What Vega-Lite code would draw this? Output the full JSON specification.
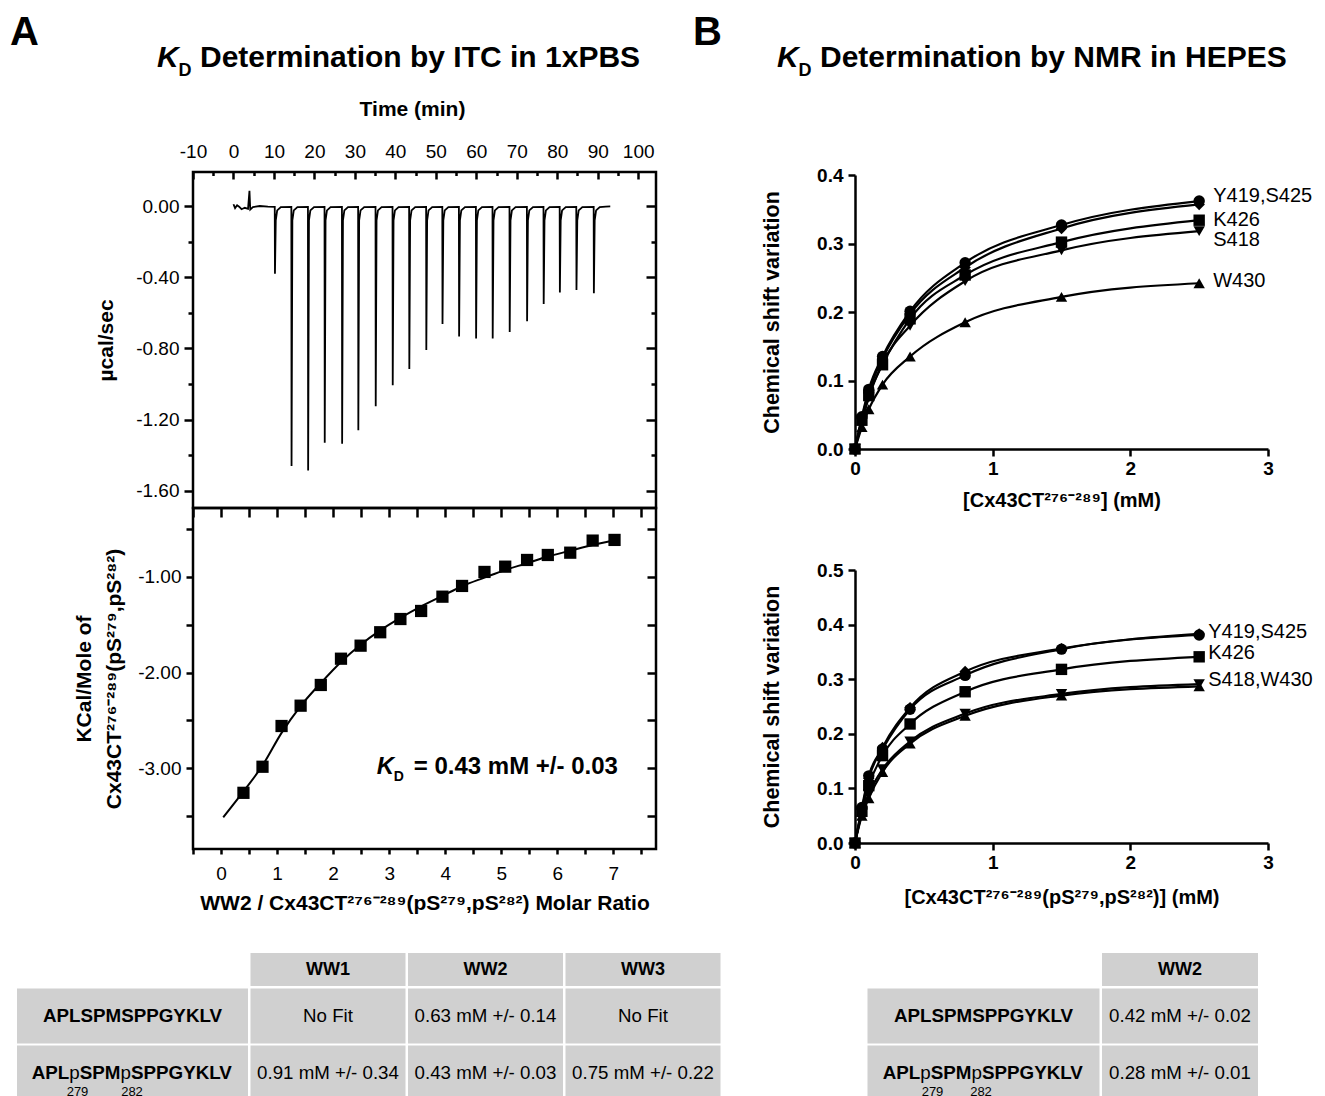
{
"$schema": "https://vega.github.io/schema/vega-lite/v6.json",
"padding": {"left": 8, "top": 11, "right": 5, "bottom": 5},
"autosize": {"type": "pad"},
"background": "white",
"config": {
  "font": "Liberation Sans",
  "view": {"stroke": null},
  "axis": {"grid": false, "domainColor": "black", "tickColor": "black", "labelColor": "black", "titleColor": "black", "labelFont": "Liberation Sans", "titleFont": "Liberation Sans", "labelFlush": false, "labelOverlap": false},
  "text": {"font": "Liberation Sans", "color": "black"},
  "locale": {"number": {"decimal": ".", "thousands": ",", "grouping": [3], "currency": ["$", ""], "minus": "-"}}
},
"datasets": {
  "itcraw": [{"t":0,"p":0.01},{"t":0.4,"p":-0.012},{"t":0.9,"p":0.004},{"t":1.4,"p":-0.004},{"t":2,"p":-0.018},{"t":2.8,"p":-0.01},{"t":3.6,"p":-0.016},{"t":3.95,"p":0.085},{"t":4.15,"p":-0.02},{"t":4.8,"p":-0.006},{"t":6.5,"p":0},{"t":8.5,"p":-0.004},
{"t":10.2,"p":-0.005},{"t":10.25,"p":-0.38},{"t":10.45,"p":-0.08},{"t":10.8,"p":-0.025},{"t":11.7,"p":-0.006},
{"t":14.3,"p":-0.005},{"t":14.35,"p":-1.46},{"t":14.55,"p":-0.08},{"t":14.9,"p":-0.025},{"t":15.8,"p":-0.006},
{"t":18.4,"p":-0.005},{"t":18.45,"p":-1.485},{"t":18.65,"p":-0.08},{"t":19,"p":-0.025},{"t":19.9,"p":-0.006},
{"t":22.5,"p":-0.005},{"t":22.55,"p":-1.33},{"t":22.75,"p":-0.08},{"t":23.1,"p":-0.025},{"t":24,"p":-0.006},
{"t":26.8,"p":-0.005},{"t":26.85,"p":-1.335},{"t":27.05,"p":-0.08},{"t":27.4,"p":-0.025},{"t":28.3,"p":-0.006},
{"t":30.8,"p":-0.005},{"t":30.85,"p":-1.26},{"t":31.05,"p":-0.08},{"t":31.4,"p":-0.025},{"t":32.3,"p":-0.006},
{"t":35.1,"p":-0.005},{"t":35.15,"p":-1.125},{"t":35.35,"p":-0.08},{"t":35.7,"p":-0.025},{"t":36.6,"p":-0.006},
{"t":39.3,"p":-0.005},{"t":39.35,"p":-1.006},{"t":39.55,"p":-0.08},{"t":39.9,"p":-0.025},{"t":40.8,"p":-0.006},
{"t":43.4,"p":-0.005},{"t":43.45,"p":-0.916},{"t":43.65,"p":-0.08},{"t":44,"p":-0.025},{"t":44.9,"p":-0.006},
{"t":47.6,"p":-0.005},{"t":47.65,"p":-0.808},{"t":47.85,"p":-0.08},{"t":48.2,"p":-0.025},{"t":49.1,"p":-0.006},
{"t":51.6,"p":-0.005},{"t":51.65,"p":-0.662},{"t":51.85,"p":-0.08},{"t":52.2,"p":-0.025},{"t":53.1,"p":-0.006},
{"t":55.7,"p":-0.005},{"t":55.75,"p":-0.733},{"t":55.95,"p":-0.08},{"t":56.3,"p":-0.025},{"t":57.2,"p":-0.006},
{"t":59.9,"p":-0.005},{"t":59.95,"p":-0.744},{"t":60.15,"p":-0.08},{"t":60.5,"p":-0.025},{"t":61.4,"p":-0.006},
{"t":64,"p":-0.005},{"t":64.05,"p":-0.744},{"t":64.25,"p":-0.08},{"t":64.6,"p":-0.025},{"t":65.5,"p":-0.006},
{"t":68.2,"p":-0.005},{"t":68.25,"p":-0.707},{"t":68.45,"p":-0.08},{"t":68.8,"p":-0.025},{"t":69.7,"p":-0.006},
{"t":72.5,"p":-0.005},{"t":72.55,"p":-0.647},{"t":72.75,"p":-0.08},{"t":73.1,"p":-0.025},{"t":74,"p":-0.006},
{"t":76.6,"p":-0.005},{"t":76.65,"p":-0.55},{"t":76.85,"p":-0.08},{"t":77.2,"p":-0.025},{"t":78.1,"p":-0.006},
{"t":80.6,"p":-0.005},{"t":80.65,"p":-0.486},{"t":80.85,"p":-0.08},{"t":81.2,"p":-0.025},{"t":82.1,"p":-0.006},
{"t":84.7,"p":-0.005},{"t":84.75,"p":-0.471},{"t":84.95,"p":-0.08},{"t":85.3,"p":-0.025},{"t":86.2,"p":-0.006},
{"t":89,"p":-0.005},{"t":89.05,"p":-0.49},{"t":89.25,"p":-0.08},{"t":89.6,"p":-0.025},{"t":90.5,"p":-0.006},
{"t":92,"p":-0.003},{"t":93.1,"p":-0.002}],
  "itcpts": [{"r":0.4,"h":-3.255},{"r":0.74,"h":-2.983},{"r":1.08,"h":-2.558},{"r":1.42,"h":-2.346},{"r":1.78,"h":-2.13},{"r":2.14,"h":-1.856},{"r":2.49,"h":-1.72},{"r":2.84,"h":-1.58},{"r":3.2,"h":-1.442},{"r":3.57,"h":-1.358},{"r":3.95,"h":-1.209},{"r":4.3,"h":-1.097},{"r":4.7,"h":-0.951},{"r":5.07,"h":-0.896},{"r":5.46,"h":-0.826},{"r":5.83,"h":-0.774},{"r":6.23,"h":-0.75},{"r":6.63,"h":-0.624},{"r":7.02,"h":-0.617}],
  "itcfit": [{"r":0.04,"h":-3.51},{"r":0.4,"h":-3.24},{"r":0.74,"h":-2.97},{"r":1.08,"h":-2.63},{"r":1.42,"h":-2.35},{"r":1.78,"h":-2.11},{"r":2.14,"h":-1.89},{"r":2.49,"h":-1.71},{"r":2.84,"h":-1.56},{"r":3.2,"h":-1.43},{"r":3.57,"h":-1.31},{"r":3.95,"h":-1.2},{"r":4.3,"h":-1.1},{"r":4.7,"h":-1.01},{"r":5.07,"h":-0.93},{"r":5.46,"h":-0.86},{"r":5.83,"h":-0.79},{"r":6.23,"h":-0.73},{"r":6.63,"h":-0.67},{"r":7.02,"h":-0.62}],
  "nmr1": [
{"s":"Y419","c":0,"v":0},{"s":"Y419","c":0.05,"v":0.047},{"s":"Y419","c":0.1,"v":0.087},{"s":"Y419","c":0.2,"v":0.135},{"s":"Y419","c":0.4,"v":0.201},{"s":"Y419","c":0.8,"v":0.272},{"s":"Y419","c":1.5,"v":0.327},{"s":"Y419","c":2.5,"v":0.362},
{"s":"S425","c":0,"v":0},{"s":"S425","c":0.05,"v":0.045},{"s":"S425","c":0.1,"v":0.083},{"s":"S425","c":0.2,"v":0.132},{"s":"S425","c":0.4,"v":0.197},{"s":"S425","c":0.8,"v":0.265},{"s":"S425","c":1.5,"v":0.322},{"s":"S425","c":2.5,"v":0.357},
{"s":"K426","c":0,"v":0},{"s":"K426","c":0.05,"v":0.042},{"s":"K426","c":0.1,"v":0.078},{"s":"K426","c":0.2,"v":0.123},{"s":"K426","c":0.4,"v":0.19},{"s":"K426","c":0.8,"v":0.254},{"s":"K426","c":1.5,"v":0.302},{"s":"K426","c":2.5,"v":0.334},
{"s":"S418","c":0,"v":0},{"s":"S418","c":0.05,"v":0.04},{"s":"S418","c":0.1,"v":0.075},{"s":"S418","c":0.2,"v":0.125},{"s":"S418","c":0.4,"v":0.18},{"s":"S418","c":0.8,"v":0.245},{"s":"S418","c":1.5,"v":0.29},{"s":"S418","c":2.5,"v":0.318},
{"s":"W430","c":0,"v":0},{"s":"W430","c":0.05,"v":0.032},{"s":"W430","c":0.1,"v":0.058},{"s":"W430","c":0.2,"v":0.094},{"s":"W430","c":0.4,"v":0.135},{"s":"W430","c":0.8,"v":0.185},{"s":"W430","c":1.5,"v":0.222},{"s":"W430","c":2.5,"v":0.242}],
  "nmr2": [
{"s":"Y419","c":0,"v":0},{"s":"Y419","c":0.05,"v":0.065},{"s":"Y419","c":0.1,"v":0.123},{"s":"Y419","c":0.2,"v":0.172},{"s":"Y419","c":0.4,"v":0.245},{"s":"Y419","c":0.8,"v":0.307},{"s":"Y419","c":1.5,"v":0.355},{"s":"Y419","c":2.5,"v":0.381},
{"s":"S425","c":0,"v":0},{"s":"S425","c":0.05,"v":0.062},{"s":"S425","c":0.1,"v":0.118},{"s":"S425","c":0.2,"v":0.175},{"s":"S425","c":0.4,"v":0.248},{"s":"S425","c":0.8,"v":0.314},{"s":"S425","c":1.5,"v":0.356},{"s":"S425","c":2.5,"v":0.383},
{"s":"K426","c":0,"v":0},{"s":"K426","c":0.05,"v":0.058},{"s":"K426","c":0.1,"v":0.105},{"s":"K426","c":0.2,"v":0.16},{"s":"K426","c":0.4,"v":0.218},{"s":"K426","c":0.8,"v":0.277},{"s":"K426","c":1.5,"v":0.318},{"s":"K426","c":2.5,"v":0.341},
{"s":"S418","c":0,"v":0},{"s":"S418","c":0.05,"v":0.055},{"s":"S418","c":0.1,"v":0.09},{"s":"S418","c":0.2,"v":0.135},{"s":"S418","c":0.4,"v":0.186},{"s":"S418","c":0.8,"v":0.237},{"s":"S418","c":1.5,"v":0.273},{"s":"S418","c":2.5,"v":0.291},
{"s":"W430","c":0,"v":0},{"s":"W430","c":0.05,"v":0.05},{"s":"W430","c":0.1,"v":0.082},{"s":"W430","c":0.2,"v":0.13},{"s":"W430","c":0.4,"v":0.182},{"s":"W430","c":0.8,"v":0.233},{"s":"W430","c":1.5,"v":0.27},{"s":"W430","c":2.5,"v":0.287}],
  "peps": [{"row":"r1","pep":"APLSPMSPPGYKLV"},{"row":"r2","pep":"APLpSPMpSPPGYKLV"}]
},
"vconcat": [
 {"hconcat": [
   {"width": 1, "height": 1, "data": {"values": [{}]}, "mark": {"type": "text", "text": ""}, "encoding": {}},
   {"hconcat": [
     {"vconcat": [
       {"width": 463, "height": 336,
        "view": {"stroke": "black", "strokeWidth": 2.5},
        "data": {"name": "itcraw"},
        "resolve": {"axis": {"x": "independent", "y": "independent"}},
        "layer": [
          {"mark": {"type": "line", "color": "black", "strokeWidth": 1.8},
           "encoding": {
             "x": {"field": "t", "type": "quantitative", "scale": {"domain": [-10, 104.4], "nice": false, "zero": false},
                   "axis": {"orient": "top", "values": [-10,0,10,20,30,40,50,60,70,80,90,100], "format": "d", "domain": false, "tickSize": -7, "tickWidth": 2.5, "labelPadding": 18, "labelFontSize": 19, "title": "Time (min)", "titleFontSize": 21, "titleFontWeight": "bold", "titleX": 219, "titleY": -57, "titleAlign": "center", "titleBaseline": "alphabetic", "titleAngle": 0}},
             "y": {"field": "p", "type": "quantitative", "scale": {"domain": [-1.696, 0.191], "nice": false, "zero": false},
                   "axis": {"orient": "left", "values": [0,-0.4,-0.8,-1.2,-1.6], "format": ".2f", "domain": false, "tickSize": 9, "tickWidth": 2.5, "labelPadding": 5, "labelFontSize": 19, "title": "µcal/sec", "titleFontSize": 21, "titleFontWeight": "bold", "titlePadding": 19}}
           }},
          {"mark": {"type": "line", "opacity": 0},
           "encoding": {
             "x": {"field": "t", "type": "quantitative", "axis": {"orient": "top", "values": [-5,5,15,25,35,45,55,65,75,85,95], "domain": false, "tickSize": -3.5, "tickWidth": 2.5, "labels": false, "title": null}},
             "y": {"field": "p", "type": "quantitative", "axis": {"orient": "left", "values": [-0.2,-0.6,-1.0,-1.4], "domain": false, "tickSize": 5, "tickWidth": 2.5, "labels": false, "title": null}}
           }},
          {"mark": {"type": "line", "opacity": 0},
           "encoding": {
             "x": {"field": "t", "type": "quantitative", "axis": null},
             "y": {"field": "p", "type": "quantitative", "axis": {"orient": "right", "values": [0,-0.4,-0.8,-1.2,-1.6], "domain": false, "tickSize": -10, "tickWidth": 2.5, "labels": false, "title": null}}
           }},
          {"mark": {"type": "line", "opacity": 0},
           "encoding": {
             "x": {"field": "t", "type": "quantitative", "axis": null},
             "y": {"field": "p", "type": "quantitative", "axis": {"orient": "right", "values": [-0.2,-0.6,-1.0,-1.4], "domain": false, "tickSize": -5, "tickWidth": 2.5, "labels": false, "title": null}}
           }},
          {"data": {"values": [{}]},
           "mark": {"type": "text", "text": "A", "fontSize": 40, "fontWeight": "bold", "align": "left", "baseline": "alphabetic"},
           "encoding": {"x": {"datum": -55.22, "type": "quantitative", "axis": null}, "y": {"datum": 0.904, "type": "quantitative", "axis": null}}},
          {"data": {"values": [{}]},
           "mark": {"type": "text", "text": "K", "fontSize": 30, "fontWeight": "bold", "fontStyle": "italic", "align": "left", "baseline": "alphabetic"},
           "encoding": {"x": {"datum": -18.9, "type": "quantitative", "axis": null}, "y": {"datum": 0.7807, "type": "quantitative", "axis": null}}},
          {"data": {"values": [{}]},
           "mark": {"type": "text", "text": "D", "fontSize": 18, "fontWeight": "bold", "align": "left", "baseline": "alphabetic", "dx": 21.5, "dy": 9},
           "encoding": {"x": {"datum": -18.9, "type": "quantitative", "axis": null}, "y": {"datum": 0.7807, "type": "quantitative", "axis": null}}},
          {"data": {"values": [{}]},
           "mark": {"type": "text", "text": "Determination by ITC in 1xPBS", "fontSize": 30, "fontWeight": "bold", "align": "left", "baseline": "alphabetic", "dx": 43},
           "encoding": {"x": {"datum": -18.9, "type": "quantitative", "axis": null}, "y": {"datum": 0.7807, "type": "quantitative", "axis": null}}}
        ]},
       {"width": 463, "height": 341,
        "view": {"stroke": "black", "strokeWidth": 2.5},
        "resolve": {"axis": {"x": "independent", "y": "independent"}},
        "layer": [
          {"data": {"name": "itcfit"},
           "mark": {"type": "line", "color": "black", "strokeWidth": 2, "interpolate": "monotone"},
           "encoding": {
             "x": {"field": "r", "type": "quantitative", "axis": null},
             "y": {"field": "h", "type": "quantitative", "axis": null}
           }},
          {"data": {"name": "itcpts"},
           "mark": {"type": "point", "shape": "square", "filled": true, "size": 150, "color": "black", "opacity": 1},
           "encoding": {
             "x": {"field": "r", "type": "quantitative", "scale": {"domain": [-0.5, 7.76], "nice": false, "zero": false},
                   "axis": {"orient": "bottom", "values": [-0.5,0,0.5,1,1.5,2,2.5,3,3.5,4,4.5,5,5.5,6,6.5,7,7.5], "labelExpr": "datum.value % 1 == 0 ? '' + datum.value : ''", "domain": false, "tickSize": 5, "tickWidth": 2.5, "labelPadding": 10, "labelFontSize": 19, "title": "WW2 / Cx43CT²⁷⁶⁻²⁸⁹(pS²⁷⁹,pS²⁸²) Molar Ratio", "titleFontSize": 21, "titleFontWeight": "bold", "titlePadding": 9}},
             "y": {"field": "h", "type": "quantitative", "scale": {"domain": [-3.841, -0.284], "nice": false, "zero": false},
                   "axis": {"orient": "left", "values": [-0.5,-1,-1.5,-2,-2.5,-3,-3.5], "format": ".2f", "labelExpr": "datum.value % 1 == 0 ? datum.label : ''", "domain": false, "tickSize": 7, "tickWidth": 2.5, "labelPadding": 5, "labelFontSize": 19, "title": ["KCal/Mole of", "Cx43CT²⁷⁶⁻²⁸⁹(pS²⁷⁹,pS²⁸²)"], "titleFontSize": 21, "titleFontWeight": "bold", "titlePadding": 13, "titleLineHeight": 30}}
           }},
          {"data": {"name": "itcpts"},
           "mark": {"type": "point", "opacity": 0},
           "encoding": {
             "x": {"field": "r", "type": "quantitative", "axis": {"orient": "top", "values": [-0.5,0,0.5,1,1.5,2,2.5,3,3.5,4,4.5,5,5.5,6,6.5,7,7.5], "domain": false, "tickSize": -9, "tickWidth": 2.5, "labels": false, "title": null}},
             "y": {"field": "h", "type": "quantitative", "axis": {"orient": "right", "values": [-0.5,-1,-1.5,-2,-2.5,-3,-3.5], "domain": false, "tickSize": -9, "tickWidth": 2.5, "labels": false, "title": null}}
           }},
          {"data": {"values": [{}]},
           "mark": {"type": "text", "text": "K", "fontSize": 24, "fontWeight": "bold", "fontStyle": "italic", "align": "left", "baseline": "alphabetic"},
           "encoding": {"x": {"datum": 2.778, "type": "quantitative", "axis": null}, "y": {"datum": -3.058, "type": "quantitative", "axis": null}}},
          {"data": {"values": [{}]},
           "mark": {"type": "text", "text": "D", "fontSize": 14, "fontWeight": "bold", "align": "left", "baseline": "alphabetic", "dx": 17, "dy": 7},
           "encoding": {"x": {"datum": 2.778, "type": "quantitative", "axis": null}, "y": {"datum": -3.058, "type": "quantitative", "axis": null}}},
          {"data": {"values": [{}]},
           "mark": {"type": "text", "text": "= 0.43 mM +/- 0.03", "fontSize": 24, "fontWeight": "bold", "align": "left", "baseline": "alphabetic", "dx": 37},
           "encoding": {"x": {"datum": 2.778, "type": "quantitative", "axis": null}, "y": {"datum": -3.058, "type": "quantitative", "axis": null}}}
        ]}
     ], "spacing": 0, "bounds": "flush"},
     {"vconcat": [
       {"width": 1, "height": 1, "data": {"values": [{}]}, "mark": {"type": "text", "text": ""}, "encoding": {}},
       {"vconcat": [
         {"width": 413, "height": 274,
          "resolve": {"axis": {"x": "independent", "y": "independent"}},
          "layer": [
            {"data": {"name": "nmr1"},
             "mark": {"type": "line", "color": "black", "strokeWidth": 2.2, "interpolate": "monotone"},
             "encoding": {
               "x": {"field": "c", "type": "quantitative", "scale": {"domain": [0, 3], "nice": false, "zero": false},
                     "axis": {"orient": "bottom", "values": [0,1,2,3], "format": "d", "tickSize": 7, "tickWidth": 2.5, "domainWidth": 2.5, "labelFontSize": 19, "labelFontWeight": "bold", "labelPadding": 3, "title": "[Cx43CT²⁷⁶⁻²⁸⁹] (mM)", "titleFontSize": 20, "titleFontWeight": "bold", "titlePadding": 12}},
               "y": {"field": "v", "type": "quantitative", "scale": {"domain": [0, 0.4], "nice": false, "zero": false},
                     "axis": {"orient": "left", "values": [0,0.1,0.2,0.3,0.4], "format": ".1f", "tickSize": 7, "tickWidth": 2.5, "domainWidth": 2.5, "labelFontSize": 19, "labelFontWeight": "bold", "labelPadding": 5, "title": "Chemical shift variation", "titleFontSize": 21.5, "titleFontWeight": "bold", "titlePadding": 33}},
               "detail": {"field": "s", "type": "nominal"}
             }},
            {"data": {"name": "nmr1"},
             "mark": {"type": "point", "filled": true, "size": 130, "color": "black", "opacity": 1},
             "encoding": {
               "x": {"field": "c", "type": "quantitative", "axis": null},
               "y": {"field": "v", "type": "quantitative", "axis": null},
               "shape": {"field": "s", "type": "nominal", "scale": {"domain": ["Y419","S425","K426","S418","W430"], "range": ["circle","diamond","square","triangle-down","triangle-up"]}, "legend": null}
             }},
            {"data": {"values": [{"lab":"Y419,S425","x":2.5,"y":0.369},{"lab":"K426","x":2.5,"y":0.335},{"lab":"S418","x":2.5,"y":0.305},{"lab":"W430","x":2.5,"y":0.245}]},
             "mark": {"type": "text", "align": "left", "baseline": "middle", "dx": 14, "fontSize": 20},
             "encoding": {"x": {"field": "x", "type": "quantitative", "axis": null}, "y": {"field": "y", "type": "quantitative", "axis": null}, "text": {"field": "lab"}}},
            {"data": {"values": [{}]},
             "mark": {"type": "text", "text": "B", "fontSize": 40, "fontWeight": "bold", "align": "left", "baseline": "alphabetic"},
             "encoding": {"x": {"datum": -1.1767, "type": "quantitative", "axis": null}, "y": {"datum": 0.5898, "type": "quantitative", "axis": null}}},
            {"data": {"values": [{}]},
             "mark": {"type": "text", "text": "K", "fontSize": 30, "fontWeight": "bold", "fontStyle": "italic", "align": "left", "baseline": "alphabetic"},
             "encoding": {"x": {"datum": -0.5666, "type": "quantitative", "axis": null}, "y": {"datum": 0.5577, "type": "quantitative", "axis": null}}},
            {"data": {"values": [{}]},
             "mark": {"type": "text", "text": "D", "fontSize": 18, "fontWeight": "bold", "align": "left", "baseline": "alphabetic", "dx": 21.5, "dy": 9},
             "encoding": {"x": {"datum": -0.5666, "type": "quantitative", "axis": null}, "y": {"datum": 0.5577, "type": "quantitative", "axis": null}}},
            {"data": {"values": [{}]},
             "mark": {"type": "text", "text": "Determination by NMR in HEPES", "fontSize": 30, "fontWeight": "bold", "align": "left", "baseline": "alphabetic", "dx": 43},
             "encoding": {"x": {"datum": -0.5666, "type": "quantitative", "axis": null}, "y": {"datum": 0.5577, "type": "quantitative", "axis": null}}}
          ]},
         {"width": 413, "height": 273,
          "resolve": {"axis": {"x": "independent", "y": "independent"}},
          "layer": [
            {"data": {"name": "nmr2"},
             "mark": {"type": "line", "color": "black", "strokeWidth": 2.2, "interpolate": "monotone"},
             "encoding": {
               "x": {"field": "c", "type": "quantitative", "scale": {"domain": [0, 3], "nice": false, "zero": false},
                     "axis": {"orient": "bottom", "values": [0,1,2,3], "format": "d", "tickSize": 7, "tickWidth": 2.5, "domainWidth": 2.5, "labelFontSize": 19, "labelFontWeight": "bold", "labelPadding": 3, "title": "[Cx43CT²⁷⁶⁻²⁸⁹(pS²⁷⁹,pS²⁸²)] (mM)", "titleFontSize": 20, "titleFontWeight": "bold", "titlePadding": 15}},
               "y": {"field": "v", "type": "quantitative", "scale": {"domain": [0, 0.5], "nice": false, "zero": false},
                     "axis": {"orient": "left", "values": [0,0.1,0.2,0.3,0.4,0.5], "format": ".1f", "tickSize": 7, "tickWidth": 2.5, "domainWidth": 2.5, "labelFontSize": 19, "labelFontWeight": "bold", "labelPadding": 5, "title": "Chemical shift variation", "titleFontSize": 21.5, "titleFontWeight": "bold", "titlePadding": 33}},
               "detail": {"field": "s", "type": "nominal"}
             }},
            {"data": {"name": "nmr2"},
             "mark": {"type": "point", "filled": true, "size": 130, "color": "black", "opacity": 1},
             "encoding": {
               "x": {"field": "c", "type": "quantitative", "axis": null},
               "y": {"field": "v", "type": "quantitative", "axis": null},
               "shape": {"field": "s", "type": "nominal", "scale": {"domain": ["Y419","S425","K426","S418","W430"], "range": ["circle","diamond","square","triangle-down","triangle-up"]}, "legend": null}
             }},
            {"data": {"values": [{"lab":"Y419,S425","x":2.5,"y":0.387},{"lab":"K426","x":2.5,"y":0.3475},{"lab":"S418,W430","x":2.5,"y":0.299}]},
             "mark": {"type": "text", "align": "left", "baseline": "middle", "dx": 9, "fontSize": 20},
             "encoding": {"x": {"field": "x", "type": "quantitative", "axis": null}, "y": {"field": "y", "type": "quantitative", "axis": null}, "text": {"field": "lab"}}}
          ]}
       ], "spacing": 121, "bounds": "flush"}
     ], "spacing": 2, "bounds": "flush"}
   ], "spacing": 662, "bounds": "flush"}
 ], "spacing": 175, "bounds": "flush"},
 {"hconcat": [
   {"concat": [
     {"width": 231, "height": 33, "data": {"values": [{}]}, "mark": {"type": "text", "text": ""}, "encoding": {}},
     {"width": 470, "height": 33,
      "data": {"values": [{"col":"WW1"},{"col":"WW2"},{"col":"WW3"}]},
      "layer": [
        {"mark": {"type": "rect", "color": "#d0d0d0"},
         "encoding": {"x": {"field": "col", "type": "nominal", "scale": {"type": "band", "paddingInner": 0.01587, "paddingOuter": 0}, "axis": null}}},
        {"mark": {"type": "text", "fontSize": 18, "fontWeight": "bold"},
         "encoding": {"x": {"field": "col", "type": "nominal", "axis": null}, "text": {"field": "col"}}}
      ]},
     {"width": 231, "height": 112,
      "data": {"name": "peps"},
      "layer": [
        {"mark": {"type": "rect", "color": "#d0d0d0"},
         "encoding": {"y": {"field": "row", "type": "nominal", "scale": {"type": "band", "paddingInner": 0.0351, "paddingOuter": 0}, "axis": null}}},
        {"transform": [{"filter": "datum.row == 'r1'"}],
         "mark": {"type": "text", "fontSize": 18.8, "fontWeight": "bold"},
         "encoding": {"y": {"field": "row", "type": "nominal", "axis": null}, "text": {"field": "pep"}}},
        {"data": {"values": [{}]}, "mark": {"type": "text", "text": "APL", "fontSize": 18.8, "fontWeight": "bold", "align": "left", "dx": -100.8}, "encoding": {"y": {"datum": "r2", "type": "nominal", "axis": null}}},
        {"data": {"values": [{}]}, "mark": {"type": "text", "text": "p", "fontSize": 18.8, "align": "left", "dx": -63.2}, "encoding": {"y": {"datum": "r2", "type": "nominal", "axis": null}}},
        {"data": {"values": [{}]}, "mark": {"type": "text", "text": "SPM", "fontSize": 18.8, "fontWeight": "bold", "align": "left", "dx": -52.75}, "encoding": {"y": {"datum": "r2", "type": "nominal", "axis": null}}},
        {"data": {"values": [{}]}, "mark": {"type": "text", "text": "p", "fontSize": 18.8, "align": "left", "dx": -12}, "encoding": {"y": {"datum": "r2", "type": "nominal", "axis": null}}},
        {"data": {"values": [{}]}, "mark": {"type": "text", "text": "SPPGYKLV", "fontSize": 18.8, "fontWeight": "bold", "align": "left", "dx": -1.55}, "encoding": {"y": {"datum": "r2", "type": "nominal", "axis": null}}},
        {"data": {"values": [{}]},
         "mark": {"type": "text", "text": "279", "fontSize": 13, "dx": -55, "dy": 19},
         "encoding": {"y": {"datum": "r2", "type": "nominal", "axis": null}}},
        {"data": {"values": [{}]},
         "mark": {"type": "text", "text": "282", "fontSize": 13, "dx": -0.5, "dy": 19},
         "encoding": {"y": {"datum": "r2", "type": "nominal", "axis": null}}}
      ]},
     {"width": 470, "height": 112,
      "data": {"values": [{"row":"r1","col":"WW1","val":"No Fit"},{"row":"r1","col":"WW2","val":"0.63 mM +/- 0.14"},{"row":"r1","col":"WW3","val":"No Fit"},{"row":"r2","col":"WW1","val":"0.91 mM +/- 0.34"},{"row":"r2","col":"WW2","val":"0.43 mM +/- 0.03"},{"row":"r2","col":"WW3","val":"0.75 mM +/- 0.22"}]},
      "layer": [
        {"mark": {"type": "rect", "color": "#d0d0d0"},
         "encoding": {
           "x": {"field": "col", "type": "nominal", "scale": {"type": "band", "paddingInner": 0.01587, "paddingOuter": 0}, "axis": null},
           "y": {"field": "row", "type": "nominal", "scale": {"type": "band", "paddingInner": 0.0351, "paddingOuter": 0}, "axis": null}}},
        {"mark": {"type": "text", "fontSize": 18.7},
         "encoding": {"x": {"field": "col", "type": "nominal", "axis": null}, "y": {"field": "row", "type": "nominal", "axis": null}, "text": {"field": "val"}}}
      ]}
   ], "columns": 2, "spacing": 2.5, "bounds": "flush"},
   {"concat": [
     {"width": 232, "height": 33, "data": {"values": [{}]}, "mark": {"type": "text", "text": ""}, "encoding": {}},
     {"width": 156, "height": 33,
      "data": {"values": [{"col":"WW2"}]},
      "layer": [
        {"mark": {"type": "rect", "color": "#d0d0d0"},
         "encoding": {"x": {"field": "col", "type": "nominal", "scale": {"type": "band", "paddingInner": 0, "paddingOuter": 0}, "axis": null}}},
        {"mark": {"type": "text", "fontSize": 18, "fontWeight": "bold"},
         "encoding": {"x": {"field": "col", "type": "nominal", "axis": null}, "text": {"field": "col"}}}
      ]},
     {"width": 232, "height": 112,
      "data": {"name": "peps"},
      "layer": [
        {"mark": {"type": "rect", "color": "#d0d0d0"},
         "encoding": {"y": {"field": "row", "type": "nominal", "scale": {"type": "band", "paddingInner": 0.0351, "paddingOuter": 0}, "axis": null}}},
        {"transform": [{"filter": "datum.row == 'r1'"}],
         "mark": {"type": "text", "fontSize": 18.8, "fontWeight": "bold"},
         "encoding": {"y": {"field": "row", "type": "nominal", "axis": null}, "text": {"field": "pep"}}},
        {"data": {"values": [{}]}, "mark": {"type": "text", "text": "APL", "fontSize": 18.8, "fontWeight": "bold", "align": "left", "dx": -100.8}, "encoding": {"y": {"datum": "r2", "type": "nominal", "axis": null}}},
        {"data": {"values": [{}]}, "mark": {"type": "text", "text": "p", "fontSize": 18.8, "align": "left", "dx": -63.2}, "encoding": {"y": {"datum": "r2", "type": "nominal", "axis": null}}},
        {"data": {"values": [{}]}, "mark": {"type": "text", "text": "SPM", "fontSize": 18.8, "fontWeight": "bold", "align": "left", "dx": -52.75}, "encoding": {"y": {"datum": "r2", "type": "nominal", "axis": null}}},
        {"data": {"values": [{}]}, "mark": {"type": "text", "text": "p", "fontSize": 18.8, "align": "left", "dx": -12}, "encoding": {"y": {"datum": "r2", "type": "nominal", "axis": null}}},
        {"data": {"values": [{}]}, "mark": {"type": "text", "text": "SPPGYKLV", "fontSize": 18.8, "fontWeight": "bold", "align": "left", "dx": -1.55}, "encoding": {"y": {"datum": "r2", "type": "nominal", "axis": null}}},
        {"data": {"values": [{}]},
         "mark": {"type": "text", "text": "279", "fontSize": 13, "dx": -51, "dy": 19},
         "encoding": {"y": {"datum": "r2", "type": "nominal", "axis": null}}},
        {"data": {"values": [{}]},
         "mark": {"type": "text", "text": "282", "fontSize": 13, "dx": -2.5, "dy": 19},
         "encoding": {"y": {"datum": "r2", "type": "nominal", "axis": null}}}
      ]},
     {"width": 156, "height": 112,
      "data": {"values": [{"row":"r1","col":"WW2","val":"0.42 mM +/- 0.02"},{"row":"r2","col":"WW2","val":"0.28 mM +/- 0.01"}]},
      "layer": [
        {"mark": {"type": "rect", "color": "#d0d0d0"},
         "encoding": {
           "y": {"field": "row", "type": "nominal", "scale": {"type": "band", "paddingInner": 0.0351, "paddingOuter": 0}, "axis": null}}},
        {"mark": {"type": "text", "fontSize": 18.7},
         "encoding": {"y": {"field": "row", "type": "nominal", "axis": null}, "text": {"field": "val"}}}
      ]}
   ], "columns": 2, "spacing": 2.5, "bounds": "flush"}
 ], "spacing": 850.5, "bounds": "flush"}
],
"spacing": 781,
"bounds": "flush"
}
